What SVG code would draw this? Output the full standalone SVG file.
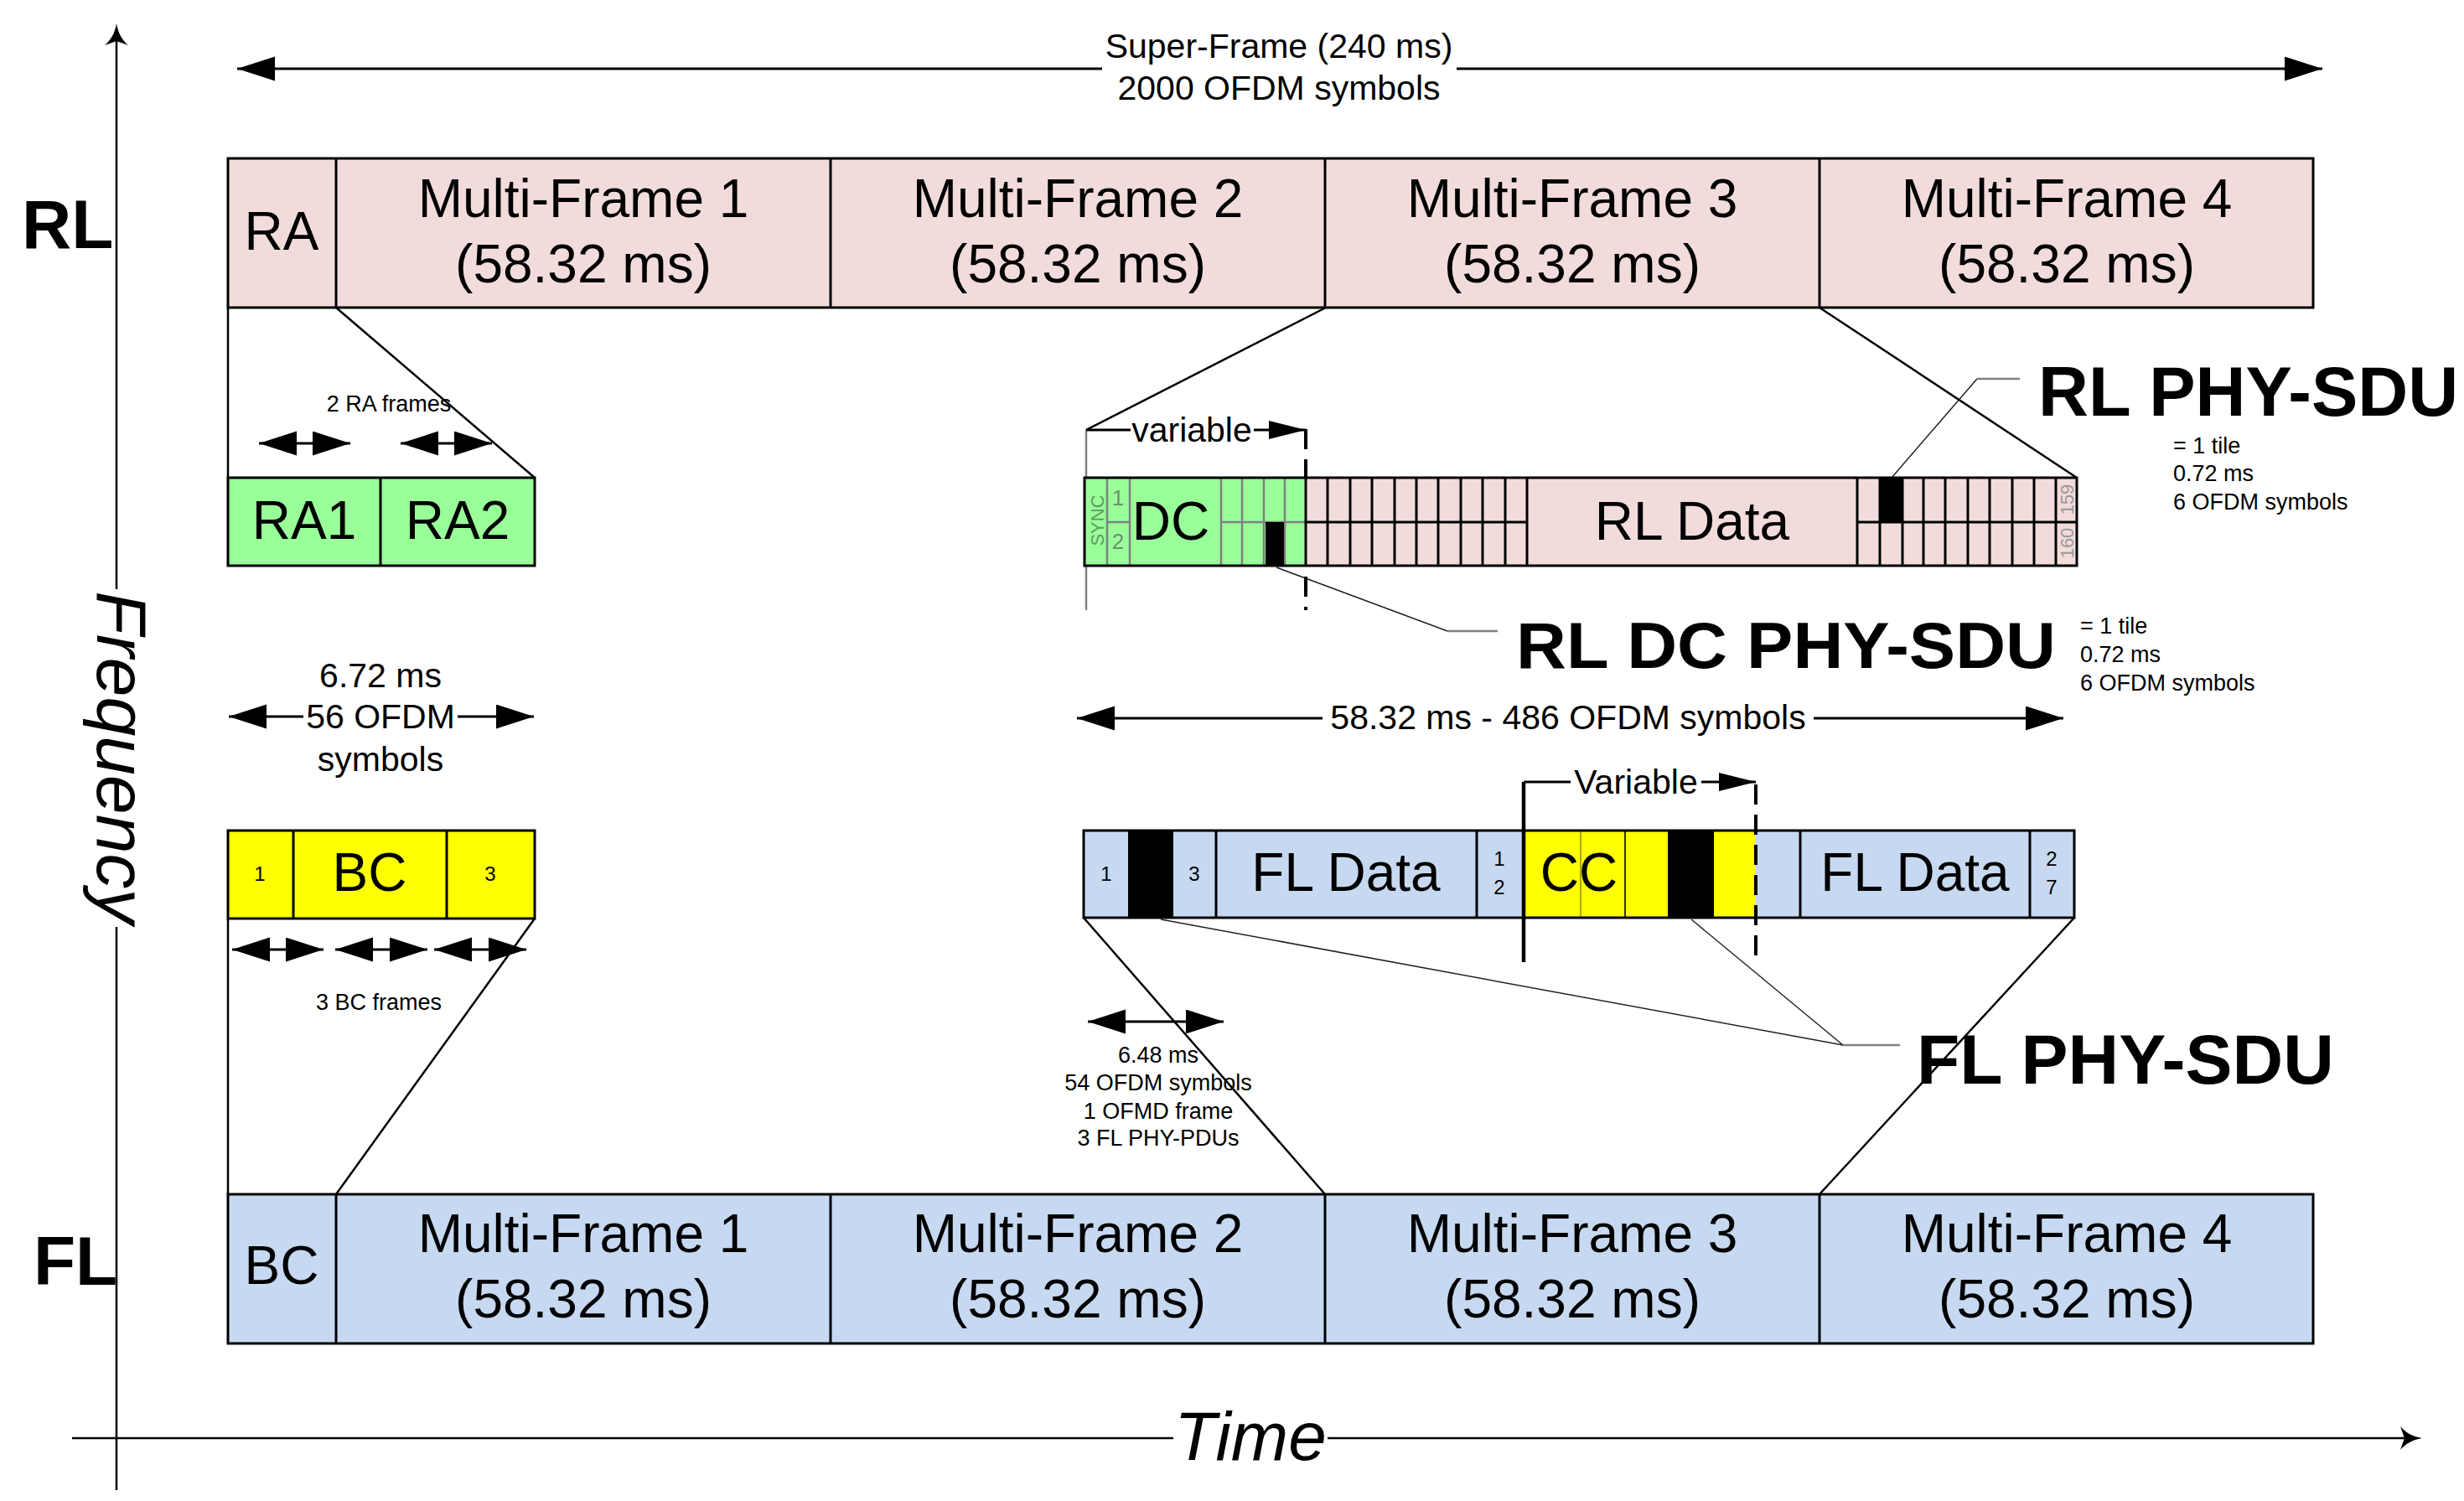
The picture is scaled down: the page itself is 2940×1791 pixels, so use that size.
<svg xmlns="http://www.w3.org/2000/svg" width="2940" height="1791" viewBox="0 0 2940 1791">
<style>
text{font-family:"Liberation Sans",Arial,sans-serif;fill:#000}
.big{font-size:64px}
.mid{font-size:41px}
.sml{font-size:27px}
.tiny{font-size:24px}
.bold{font-weight:bold}
.pink{fill:#F2DCDB}
.blue{fill:#C6D9F1}
.green{fill:#99FF99}
.yellow{fill:#FFFF00}
.frame{fill:none;stroke:#000;stroke-width:3}
.sep{stroke:#000;stroke-width:3}
.gsep{stroke:#808080;stroke-width:2.5}
.conn{stroke:#000;stroke-width:2.5;fill:none}
.lead{stroke:#222;stroke-width:1.5;fill:none}
.leadg{stroke:#808080;stroke-width:2.5;fill:none}
.arr{stroke:#000;stroke-width:3;fill:none}
.dash{stroke:#000;stroke-width:4;stroke-dasharray:24 12;fill:none}
</style>
<defs>
<marker id="ah" markerUnits="userSpaceOnUse" viewBox="0 0 46 30" markerWidth="46" markerHeight="30" refX="45" refY="14.5" orient="auto-start-reverse"><path d="M0,0 L45,14.5 L0,29 Z" fill="#000"/></marker>
<marker id="ahs" markerUnits="userSpaceOnUse" viewBox="0 0 46 24" markerWidth="46" markerHeight="24" refX="44" refY="11" orient="auto"><path d="M0,0 L44,11 L0,22 Z" fill="#000"/></marker>
</defs>
<rect width="2940" height="1791" fill="#fff"/>

<!-- axes -->
<g id="axes">
<line x1="139" y1="45" x2="139" y2="703" stroke="#000" stroke-width="2.5"/>
<line x1="139" y1="1106" x2="139" y2="1778" stroke="#000" stroke-width="2.5"/>
<path d="M139,28 C141,40 146,48 153,54 L139,49 L125,54 C132,48 137,40 139,28 Z" fill="#000"/>
<line x1="86" y1="1716" x2="1400" y2="1716" stroke="#000" stroke-width="2.5"/>
<line x1="1584" y1="1716" x2="2875" y2="1716" stroke="#000" stroke-width="2.5"/>
<path d="M2890,1716 C2878,1718 2870,1723 2864,1730 L2869,1716 L2864,1702 C2870,1709 2878,1714 2890,1716 Z" fill="#000"/>
<text x="1492" y="1742" font-size="82" font-style="italic" text-anchor="middle">Time</text>
<text transform="translate(116,904) rotate(90)" font-size="84" font-style="italic" text-anchor="middle">Frequency</text>
<text x="26" y="296" font-size="82" class="bold">RL</text>
<text x="40" y="1533" font-size="82" class="bold">FL</text>
</g>

<!-- super-frame dimension -->
<g id="superframe">
<line x1="283" y1="82" x2="1315" y2="82" class="arr" marker-start="url(#ah)"/>
<line x1="1738" y1="82" x2="2771" y2="82" class="arr" marker-end="url(#ah)"/>
<text x="1526" y="69" class="mid" text-anchor="middle">Super-Frame (240 ms)</text>
<text x="1526" y="119" class="mid" text-anchor="middle">2000 OFDM symbols</text>
</g>

<!-- connectors -->
<g id="connectors">
<line x1="272" y1="367" x2="272" y2="570" class="conn"/>
<line x1="401" y1="367" x2="638" y2="570" class="conn"/>
<line x1="1582" y1="367" x2="1296" y2="513" class="conn"/>
<line x1="2171" y1="367" x2="2478" y2="570" class="conn"/>
<line x1="272" y1="1096" x2="272" y2="1425" class="conn"/>
<line x1="638" y1="1096" x2="401" y2="1425" class="conn"/>
<line x1="1293" y1="1095" x2="1581" y2="1425" class="conn"/>
<line x1="2475" y1="1095" x2="2171" y2="1425" class="conn"/>
<polyline points="2257,570 2359,452" class="lead"/>
<line x1="2359" y1="452" x2="2410" y2="452" class="leadg"/>
<polyline points="1523,677 1727,753" class="lead"/>
<line x1="1727" y1="753" x2="1787" y2="753" class="leadg"/>
<line x1="1385" y1="1097" x2="2199" y2="1247" class="lead"/>
<line x1="2018" y1="1097" x2="2199" y2="1247" class="lead"/>
<line x1="2199" y1="1247" x2="2267" y2="1247" class="leadg"/>
</g>

<!-- RL super-frame bar -->
<g id="rl-bar">
<rect x="272" y="189" width="2488" height="178" class="pink"/>
<rect x="272" y="189" width="2488" height="178" class="frame"/>
<line x1="401" y1="189" x2="401" y2="367" class="sep"/>
<line x1="991" y1="189" x2="991" y2="367" class="sep"/>
<line x1="1581" y1="189" x2="1581" y2="367" class="sep"/>
<line x1="2171" y1="189" x2="2171" y2="367" class="sep"/>
<text x="336" y="298" class="big" text-anchor="middle">RA</text>
<text x="696" y="259" class="big" text-anchor="middle">Multi-Frame 1</text>
<text x="696" y="337" class="big" text-anchor="middle">(58.32 ms)</text>
<text x="1286" y="259" class="big" text-anchor="middle">Multi-Frame 2</text>
<text x="1286" y="337" class="big" text-anchor="middle">(58.32 ms)</text>
<text x="1876" y="259" class="big" text-anchor="middle">Multi-Frame 3</text>
<text x="1876" y="337" class="big" text-anchor="middle">(58.32 ms)</text>
<text x="2466" y="259" class="big" text-anchor="middle">Multi-Frame 4</text>
<text x="2466" y="337" class="big" text-anchor="middle">(58.32 ms)</text>
</g>

<!-- FL super-frame bar -->
<g id="fl-bar">
<rect x="272" y="1425" width="2488" height="178" class="blue"/>
<rect x="272" y="1425" width="2488" height="178" class="frame"/>
<line x1="401" y1="1425" x2="401" y2="1603" class="sep"/>
<line x1="991" y1="1425" x2="991" y2="1603" class="sep"/>
<line x1="1581" y1="1425" x2="1581" y2="1603" class="sep"/>
<line x1="2171" y1="1425" x2="2171" y2="1603" class="sep"/>
<text x="336" y="1532" class="big" text-anchor="middle">BC</text>
<text x="696" y="1494" class="big" text-anchor="middle">Multi-Frame 1</text>
<text x="696" y="1572" class="big" text-anchor="middle">(58.32 ms)</text>
<text x="1286" y="1494" class="big" text-anchor="middle">Multi-Frame 2</text>
<text x="1286" y="1572" class="big" text-anchor="middle">(58.32 ms)</text>
<text x="1876" y="1494" class="big" text-anchor="middle">Multi-Frame 3</text>
<text x="1876" y="1572" class="big" text-anchor="middle">(58.32 ms)</text>
<text x="2466" y="1494" class="big" text-anchor="middle">Multi-Frame 4</text>
<text x="2466" y="1572" class="big" text-anchor="middle">(58.32 ms)</text>
</g>

<!-- RA frames -->
<g id="ra-frames">
<text x="464" y="491" class="sml" text-anchor="middle">2 RA frames</text>
<line x1="309" y1="529" x2="418" y2="529" class="arr" marker-start="url(#ah)" marker-end="url(#ah)"/>
<line x1="478" y1="529" x2="587" y2="529" class="arr" marker-start="url(#ah)" marker-end="url(#ah)"/>
<rect x="272" y="570" width="366" height="105" class="green"/>
<rect x="272" y="570" width="366" height="105" class="frame"/>
<line x1="454" y1="570" x2="454" y2="675" class="sep"/>
<text x="363" y="643" class="big" text-anchor="middle">RA1</text>
<text x="546" y="643" class="big" text-anchor="middle">RA2</text>
</g>

<!-- 6.72 ms dimension -->
<g id="dim-672">
<text x="454" y="820" class="mid" text-anchor="middle">6.72 ms</text>
<line x1="273" y1="855" x2="362" y2="855" class="arr" marker-start="url(#ah)"/>
<line x1="546" y1="855" x2="637" y2="855" class="arr" marker-end="url(#ah)"/>
<text x="454" y="869" class="mid" text-anchor="middle">56 OFDM</text>
<text x="454" y="920" class="mid" text-anchor="middle">symbols</text>
</g>

<!-- BC frames -->
<g id="bc-frames">
<rect x="272" y="991" width="366" height="105" class="yellow"/>
<rect x="272" y="991" width="366" height="105" class="frame"/>
<line x1="350" y1="991" x2="350" y2="1096" class="sep"/>
<line x1="533" y1="991" x2="533" y2="1096" class="sep"/>
<text x="310" y="1051" class="tiny" text-anchor="middle">1</text>
<text x="441" y="1063" class="big" text-anchor="middle">BC</text>
<text x="585" y="1051" class="tiny" text-anchor="middle">3</text>
<line x1="277" y1="1133" x2="386" y2="1133" class="arr" marker-start="url(#ah)" marker-end="url(#ah)"/>
<line x1="400" y1="1133" x2="510" y2="1133" class="arr" marker-start="url(#ah)" marker-end="url(#ah)"/>
<line x1="518" y1="1133" x2="628" y2="1133" class="arr" marker-start="url(#ah)" marker-end="url(#ah)"/>
<text x="452" y="1205" class="sml" text-anchor="middle">3 BC frames</text>
</g>

<!-- RL multi-frame expansion -->
<g id="rl-multiframe">
<line x1="1296" y1="513" x2="1296" y2="728" class="gsep"/>
<line x1="1296" y1="513" x2="1349" y2="513" class="arr"/>
<text x="1422" y="527" class="mid" text-anchor="middle">variable</text>
<line x1="1496" y1="513" x2="1558" y2="513" class="arr" marker-end="url(#ahs)"/>
<rect x="1294" y="570" width="264" height="105" class="green"/>
<rect x="1558" y="570" width="920" height="105" class="pink"/>
<line x1="1321" y1="570" x2="1321" y2="675" class="gsep"/>
<line x1="1348" y1="570" x2="1348" y2="675" class="gsep"/>
<line x1="1321" y1="623" x2="1348" y2="623" class="gsep"/>
<line x1="1457" y1="570" x2="1457" y2="675" class="gsep"/>
<line x1="1482" y1="570" x2="1482" y2="675" class="gsep"/>
<line x1="1508" y1="570" x2="1508" y2="675" class="gsep"/>
<line x1="1533" y1="570" x2="1533" y2="675" class="gsep"/>
<line x1="1457" y1="623" x2="1558" y2="623" class="gsep"/>
<rect x="1510" y="623" width="22" height="52" fill="#000"/>
<text transform="translate(1317,621) rotate(-90)" font-size="22" style="fill:#5f9a5f" text-anchor="middle">SYNC</text>
<text x="1334" y="603" font-size="26" style="fill:#6d8f6d" text-anchor="middle">1</text>
<text x="1334" y="655" font-size="26" style="fill:#6d8f6d" text-anchor="middle">2</text>
<text x="1397" y="644" class="big" text-anchor="middle">DC</text>
<line x1="1558" y1="623" x2="1822" y2="623" class="sep"/>
<line x1="1584" y1="570" x2="1584" y2="675" class="sep"/>
<line x1="1611" y1="570" x2="1611" y2="675" class="sep"/>
<line x1="1637" y1="570" x2="1637" y2="675" class="sep"/>
<line x1="1664" y1="570" x2="1664" y2="675" class="sep"/>
<line x1="1690" y1="570" x2="1690" y2="675" class="sep"/>
<line x1="1716" y1="570" x2="1716" y2="675" class="sep"/>
<line x1="1743" y1="570" x2="1743" y2="675" class="sep"/>
<line x1="1769" y1="570" x2="1769" y2="675" class="sep"/>
<line x1="1796" y1="570" x2="1796" y2="675" class="sep"/>
<line x1="1822" y1="570" x2="1822" y2="675" class="sep"/>
<text x="2019" y="644" class="big" text-anchor="middle">RL Data</text>
<line x1="2216" y1="623" x2="2478" y2="623" class="sep"/>
<line x1="2216" y1="570" x2="2216" y2="675" class="sep"/>
<line x1="2243" y1="570" x2="2243" y2="675" class="sep"/>
<line x1="2270" y1="570" x2="2270" y2="675" class="sep"/>
<line x1="2295" y1="570" x2="2295" y2="675" class="sep"/>
<line x1="2321" y1="570" x2="2321" y2="675" class="sep"/>
<line x1="2348" y1="570" x2="2348" y2="675" class="sep"/>
<line x1="2374" y1="570" x2="2374" y2="675" class="sep"/>
<line x1="2401" y1="570" x2="2401" y2="675" class="sep"/>
<line x1="2427" y1="570" x2="2427" y2="675" class="sep"/>
<line x1="2453" y1="570" x2="2453" y2="675" class="sep"/>
<rect x="2243" y="570" width="27" height="53" fill="#000"/>
<text transform="translate(2474,596) rotate(-90)" font-size="22" style="fill:#999" text-anchor="middle">159</text>
<text transform="translate(2474,648) rotate(-90)" font-size="22" style="fill:#999" text-anchor="middle">160</text>
<rect x="1294" y="570" width="1184" height="105" class="frame"/>
<line x1="1558" y1="570" x2="1558" y2="675" class="sep"/>
<line x1="1558" y1="512" x2="1558" y2="570" class="dash"/>
<line x1="1558" y1="688" x2="1558" y2="728" class="dash"/>
</g>

<!-- RL labels -->
<g id="rl-phy-sdu">
<text x="2432" y="496" font-size="83" class="bold">RL PHY-SDU</text>
<text x="2593" y="541" class="sml">= 1 tile</text>
<text x="2593" y="574" class="sml">0.72 ms</text>
<text x="2593" y="608" class="sml">6 OFDM symbols</text>
</g>
<g id="rl-dc-phy-sdu">
<text x="1809" y="797" font-size="78" class="bold" textLength="644" lengthAdjust="spacingAndGlyphs">RL DC PHY-SDU</text>
<text x="2482" y="756" class="sml">= 1 tile</text>
<text x="2482" y="790" class="sml">0.72 ms</text>
<text x="2482" y="824" class="sml">6 OFDM symbols</text>
</g>

<!-- 58.32 ms dimension -->
<g id="dim-5832">
<line x1="1285" y1="857" x2="1578" y2="857" class="arr" marker-start="url(#ah)"/>
<line x1="2164" y1="857" x2="2462" y2="857" class="arr" marker-end="url(#ah)"/>
<text x="1871" y="870" class="mid" text-anchor="middle">58.32 ms - 486 OFDM symbols</text>
</g>

<!-- FL multi-frame expansion -->
<g id="fl-multiframe">
<line x1="1818" y1="933" x2="1874" y2="933" class="arr"/>
<text x="1952" y="947" class="mid" text-anchor="middle">Variable</text>
<line x1="2030" y1="933" x2="2095" y2="933" class="arr" marker-end="url(#ahs)"/>
<rect x="1293" y="991" width="1182" height="104" class="blue"/>
<rect x="1818" y="991" width="277" height="104" class="yellow"/>
<rect x="1346" y="991" width="54" height="104" fill="#000"/>
<rect x="1990" y="991" width="55" height="104" fill="#000"/>
<line x1="1886" y1="991" x2="1886" y2="1095" stroke="#8c8c00" stroke-width="1.5"/>
<line x1="1939" y1="991" x2="1939" y2="1095" stroke="#333" stroke-width="2"/>
<line x1="1451" y1="991" x2="1451" y2="1095" class="sep"/>
<line x1="1762" y1="991" x2="1762" y2="1095" class="sep"/>
<line x1="2148" y1="991" x2="2148" y2="1095" class="sep"/>
<line x1="2422" y1="991" x2="2422" y2="1095" class="sep"/>
<text x="1320" y="1051" class="tiny" text-anchor="middle">1</text>
<text x="1425" y="1051" class="tiny" text-anchor="middle">3</text>
<text x="1606" y="1063" class="big" text-anchor="middle">FL Data</text>
<text x="1789" y="1033" class="tiny" text-anchor="middle">1</text>
<text x="1789" y="1067" class="tiny" text-anchor="middle">2</text>
<text x="1884" y="1063" class="big" text-anchor="middle">CC</text>
<text x="2285" y="1063" class="big" text-anchor="middle">FL Data</text>
<text x="2448" y="1033" class="tiny" text-anchor="middle">2</text>
<text x="2448" y="1067" class="tiny" text-anchor="middle">7</text>
<rect x="1293" y="991" width="1182" height="104" class="frame"/>
<line x1="1818" y1="933" x2="1818" y2="1148" stroke="#000" stroke-width="4.5"/>
<line x1="2095" y1="936" x2="2095" y2="1148" class="dash"/>
</g>

<!-- 6.48 ms dimension -->
<g id="dim-648">
<line x1="1298" y1="1219" x2="1460" y2="1219" class="arr" marker-start="url(#ah)" marker-end="url(#ah)"/>
<text x="1382" y="1268" class="sml" text-anchor="middle">6.48 ms</text>
<text x="1382" y="1301" class="sml" text-anchor="middle">54 OFDM symbols</text>
<text x="1382" y="1335" class="sml" text-anchor="middle">1 OFMD frame</text>
<text x="1382" y="1367" class="sml" text-anchor="middle">3 FL PHY-PDUs</text>
</g>

<g id="fl-phy-sdu">
<text x="2287" y="1293" font-size="84" class="bold">FL PHY-SDU</text>
</g>
</svg>
